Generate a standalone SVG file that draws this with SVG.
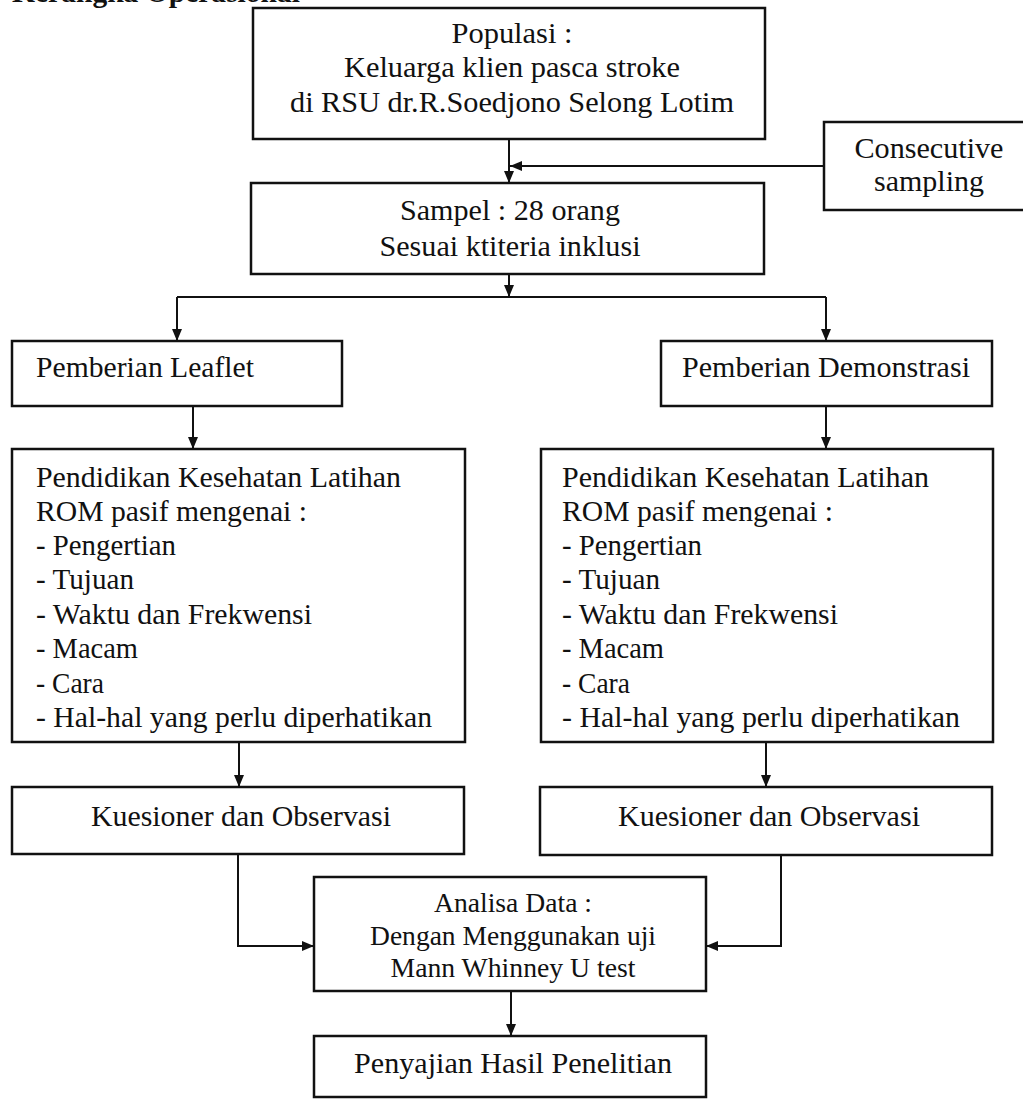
<svg xmlns="http://www.w3.org/2000/svg" width="1023" height="1099" viewBox="0 0 1023 1099">
<style>
.box{fill:#fff;stroke:#111;stroke-width:2.5}
.t{font-family:"Liberation Serif","Times New Roman",serif;font-size:30px;fill:#111}
.c{text-anchor:middle}
.s{font-size:27.5px}
.h{font-family:"Liberation Serif","Times New Roman",serif;font-size:30px;font-weight:bold;fill:#111}
.ln{fill:none;stroke:#111;stroke-width:2}
</style>
<defs>
<marker id="ah" viewBox="0 0 12 10" refX="12" refY="5" markerWidth="12" markerHeight="10" markerUnits="userSpaceOnUse" orient="auto">
<path d="M0,0 L12,5 L0,10 z" fill="#111"/>
</marker>
</defs>
<rect width="1023" height="1099" fill="#fff"/>
<text class="h" x="12" y="2" textLength="288" lengthAdjust="spacingAndGlyphs">Kerangka Operasional</text>

<g id="connectors">
<line class="ln" x1="509" y1="139" x2="509" y2="183" marker-end="url(#ah)"/>
<line class="ln" x1="824" y1="166" x2="510" y2="166" marker-end="url(#ah)"/>
<line class="ln" x1="509" y1="274" x2="509" y2="297" marker-end="url(#ah)"/>
<line class="ln" x1="177" y1="297" x2="826" y2="297"/>
<line class="ln" x1="177" y1="297" x2="177" y2="341" marker-end="url(#ah)"/>
<line class="ln" x1="826" y1="297" x2="826" y2="341" marker-end="url(#ah)"/>
<line class="ln" x1="193" y1="406" x2="193" y2="449" marker-end="url(#ah)"/>
<line class="ln" x1="826" y1="406" x2="826" y2="449" marker-end="url(#ah)"/>
<line class="ln" x1="239" y1="742" x2="239" y2="787" marker-end="url(#ah)"/>
<line class="ln" x1="766" y1="742" x2="766" y2="787" marker-end="url(#ah)"/>
<polyline class="ln" points="238,854 238,946 314,946" marker-end="url(#ah)"/>
<polyline class="ln" points="781,855 781,946 706,946" marker-end="url(#ah)"/>
<line class="ln" x1="511" y1="991" x2="511" y2="1036" marker-end="url(#ah)"/>
</g>

<g id="populasi">
<rect class="box" x="253" y="8" width="512" height="131"/>
<text class="t c" x="512" y="43" textLength="121" lengthAdjust="spacingAndGlyphs">Populasi :</text>
<text class="t c" x="512" y="77" textLength="336" lengthAdjust="spacingAndGlyphs">Keluarga klien pasca stroke</text>
<text class="t c" x="512" y="112" textLength="444" lengthAdjust="spacingAndGlyphs">di RSU dr.R.Soedjono Selong Lotim</text>
</g>

<g id="consecutive">
<rect class="box" x="824" y="122" width="220" height="88"/>
<text class="t c" x="929" y="158" textLength="149" lengthAdjust="spacingAndGlyphs">Consecutive</text>
<text class="t c" x="929" y="191" textLength="110" lengthAdjust="spacingAndGlyphs">sampling</text>
</g>

<g id="sampel">
<rect class="box" x="251" y="183" width="513" height="91"/>
<text class="t c" x="510" y="220" textLength="220" lengthAdjust="spacingAndGlyphs">Sampel : 28 orang</text>
<text class="t c" x="510" y="256" textLength="261" lengthAdjust="spacingAndGlyphs">Sesuai ktiteria inklusi</text>
</g>

<g id="leaflet">
<rect class="box" x="12" y="341" width="330" height="65"/>
<text class="t" x="36" y="377" textLength="218" lengthAdjust="spacingAndGlyphs">Pemberian Leaflet</text>
</g>

<g id="demonstrasi">
<rect class="box" x="661" y="341" width="331" height="65"/>
<text class="t" x="682" y="377" textLength="288" lengthAdjust="spacingAndGlyphs">Pemberian Demonstrasi</text>
</g>

<g id="pendidikan-left">
<rect class="box" x="12" y="449" width="453" height="293"/>
<text class="t" x="36" y="487" textLength="365" lengthAdjust="spacingAndGlyphs">Pendidikan Kesehatan Latihan</text>
<text class="t" x="36" y="521" textLength="271" lengthAdjust="spacingAndGlyphs">ROM pasif mengenai :</text>
<text class="t" x="36" y="555" textLength="140" lengthAdjust="spacingAndGlyphs">- Pengertian</text>
<text class="t" x="36" y="589" textLength="98" lengthAdjust="spacingAndGlyphs">- Tujuan</text>
<text class="t" x="36" y="624" textLength="276" lengthAdjust="spacingAndGlyphs">- Waktu dan Frekwensi</text>
<text class="t" x="36" y="658" textLength="102" lengthAdjust="spacingAndGlyphs">- Macam</text>
<text class="t" x="36" y="693" textLength="68" lengthAdjust="spacingAndGlyphs">- Cara</text>
<text class="t" x="36" y="727" textLength="396" lengthAdjust="spacingAndGlyphs">- Hal-hal yang perlu diperhatikan</text>
</g>

<g id="pendidikan-right">
<rect class="box" x="541" y="449" width="452" height="293"/>
<text class="t" x="562" y="487" textLength="367" lengthAdjust="spacingAndGlyphs">Pendidikan Kesehatan Latihan</text>
<text class="t" x="562" y="521" textLength="271" lengthAdjust="spacingAndGlyphs">ROM pasif mengenai :</text>
<text class="t" x="562" y="555" textLength="140" lengthAdjust="spacingAndGlyphs">- Pengertian</text>
<text class="t" x="562" y="589" textLength="98" lengthAdjust="spacingAndGlyphs">- Tujuan</text>
<text class="t" x="562" y="624" textLength="276" lengthAdjust="spacingAndGlyphs">- Waktu dan Frekwensi</text>
<text class="t" x="562" y="658" textLength="102" lengthAdjust="spacingAndGlyphs">- Macam</text>
<text class="t" x="562" y="693" textLength="68" lengthAdjust="spacingAndGlyphs">- Cara</text>
<text class="t" x="562" y="727" textLength="398" lengthAdjust="spacingAndGlyphs">- Hal-hal yang perlu diperhatikan</text>
</g>

<g id="kuesioner-left">
<rect class="box" x="12" y="787" width="452" height="67"/>
<text class="t c" x="241" y="826" textLength="300" lengthAdjust="spacingAndGlyphs">Kuesioner dan Observasi</text>
</g>

<g id="kuesioner-right">
<rect class="box" x="540" y="787" width="452" height="68"/>
<text class="t c" x="769" y="826" textLength="302" lengthAdjust="spacingAndGlyphs">Kuesioner dan Observasi</text>
</g>

<g id="analisa">
<rect class="box" x="314" y="877" width="392" height="114"/>
<text class="t s c" x="513" y="912" textLength="158" lengthAdjust="spacingAndGlyphs">Analisa Data :</text>
<text class="t s c" x="513" y="945" textLength="286" lengthAdjust="spacingAndGlyphs">Dengan Menggunakan uji</text>
<text class="t s c" x="513" y="977" textLength="245" lengthAdjust="spacingAndGlyphs">Mann Whinney U test</text>
</g>

<g id="penyajian">
<rect class="box" x="314" y="1036" width="392" height="61"/>
<text class="t c" x="513" y="1073" textLength="318" lengthAdjust="spacingAndGlyphs">Penyajian Hasil Penelitian</text>
</g>
</svg>
